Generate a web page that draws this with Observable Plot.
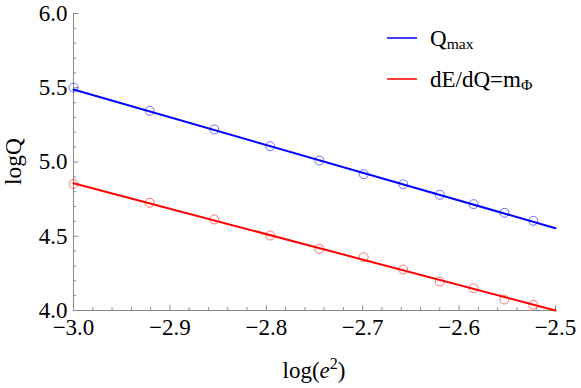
<!DOCTYPE html>
<html><head><meta charset="utf-8">
<script src="https://cdn.jsdelivr.net/npm/d3@7"></script>
<script src="https://cdn.jsdelivr.net/npm/@observablehq/plot@0.6"></script>
<style>
body{margin:0;background:#fff;}
#chart{position:relative;width:581px;height:388px;font-family:"Liberation Serif","Times New Roman",serif;}
#chart text{font-family:"Liberation Serif","Times New Roman",serif;font-variant:normal;}
#legend{position:absolute;left:0;top:0;}
</style></head><body><div id="chart"></div>
<script>
// data
const logE2 = [-3.000, -2.921, -2.854, -2.796, -2.745, -2.699, -2.658, -2.620, -2.585, -2.553, -2.523];
const qMax  = [5.501, 5.345, 5.219, 5.106, 5.010, 4.918, 4.850, 4.779, 4.716, 4.658, 4.604];
const dEdQ  = [4.852, 4.725, 4.613, 4.505, 4.415, 4.359, 4.276, 4.195, 4.150, 4.074, 4.038];
const fitX     = [-3.0, -2.5];
const qMaxFit  = [5.488, 4.554];
const dEdQFit  = [4.857, 4.000];
const seriesColors = ["#0000ff", "#ff0000"];
const xTicks = [-3.0, -2.9, -2.8, -2.7, -2.6, -2.5];
const xMinor = [-2.98,-2.96,-2.94,-2.92,-2.88,-2.86,-2.84,-2.82,-2.78,-2.76,-2.74,-2.72,-2.68,-2.66,-2.64,-2.62,-2.58,-2.56,-2.54,-2.52];
const yTicks = [4.0, 4.5, 5.0, 5.5, 6.0];
const yMinor = [4.1,4.2,4.3,4.4,4.6,4.7,4.8,4.9,5.1,5.2,5.3,5.4,5.6,5.7,5.8,5.9];

const pts = (ys) => logE2.map((x, i) => ({x, y: ys[i]}));
const fit = (ys) => fitX.map((x, i) => ({x, y: ys[i]}));
const axisGray = "#8a8a8a";
const fs = 23;
const serif = '"Liberation Serif","Times New Roman",serif';
const fmt = d3.format(".1f");

const plot = Plot.plot({
  width: 581, height: 388,
  marginLeft: 73, marginRight: 26, marginTop: 13, marginBottom: 78,
  style: {fontFamily: serif, background: "#fff"},
  x: {domain: [-3, -2.5]},
  y: {domain: [4, 6]},
  marks: [
    Plot.ruleX([-3], {stroke: axisGray}),
    Plot.ruleY([4], {stroke: axisGray}),
    Plot.axisX({ticks: xTicks, tickSize: -5, stroke: axisGray, tickFormat: () => "", label: null}),
    Plot.axisX({ticks: xMinor, tickSize: -2.8, stroke: axisGray, tickFormat: () => "", label: null}),
    Plot.axisY({ticks: yTicks, tickSize: -5.5, stroke: axisGray, tickFormat: () => "", label: null}),
    Plot.axisY({ticks: yMinor, tickSize: -3, stroke: axisGray, tickFormat: () => "", label: null}),
    Plot.axisX({ticks: xTicks, tickSize: 0, tickPadding: 8, fontSize: fs, fontFamily: serif, fontVariant: "normal", fill: "#000", tickFormat: fmt, label: null}),
    Plot.axisY({ticks: yTicks, tickSize: 0, tickPadding: 6, fontSize: fs, fontFamily: serif, fontVariant: "normal", fill: "#000", tickFormat: fmt, label: null}),
    Plot.line(fit(qMaxFit), {x: "x", y: "y", stroke: seriesColors[0], strokeWidth: 2}),
    Plot.line(fit(dEdQFit), {x: "x", y: "y", stroke: seriesColors[1], strokeWidth: 2}),
    Plot.dot(pts(qMax), {x: "x", y: "y", r: 4.5, stroke: seriesColors[0], strokeOpacity: 0.55, strokeWidth: 1}),
    Plot.dot(pts(dEdQ), {x: "x", y: "y", r: 4.5, stroke: seriesColors[1], strokeOpacity: 0.55, strokeWidth: 1})
  ]
});

const chart = document.getElementById("chart");
chart.appendChild(plot);

// axis titles
const svg = d3.select(plot);
const xr = plot.scale("x").range;
const yr = plot.scale("y").range;
const xt = svg.append("text")
  .attr("x", (xr[0] + xr[1]) / 2).attr("y", 378)
  .attr("text-anchor", "middle").attr("font-size", fs).attr("fill", "#000");
xt.append("tspan").text("log(");
xt.append("tspan").attr("font-style", "italic").text("e");
xt.append("tspan").attr("font-size", fs * 0.7).attr("dy", -9).text("2");
xt.append("tspan").attr("dy", 9).text(")");

svg.append("text")
  .attr("transform", `translate(21,${(yr[0] + yr[1]) / 2}) rotate(-90)`)
  .attr("text-anchor", "middle").attr("font-size", 23.5).attr("fill", "#000")
  .text("logQ");

// legend
const leg = d3.select(chart).append("svg").attr("id", "legend")
  .attr("width", 581).attr("height", 388)
  .style("pointer-events", "none");
const rows = [
  {main: "Q", sub: "max"},
  {main: "dE/dQ=m", sub: "Φ"}
];
const rowY = [38, 79];
rows.forEach((r, i) => {
  leg.append("line").attr("x1", 387).attr("x2", 417).attr("y1", rowY[i]).attr("y2", rowY[i])
    .attr("stroke", seriesColors[i]).attr("stroke-width", 1.5);
  const t = leg.append("text").attr("x", 430).attr("y", rowY[i] + 7.5)
    .attr("font-size", fs).attr("fill", "#000");
  t.append("tspan").text(r.main);
  t.append("tspan").attr("font-size", fs * 0.68).attr("dy", 3).text(r.sub);
});
</script>
</body></html>
